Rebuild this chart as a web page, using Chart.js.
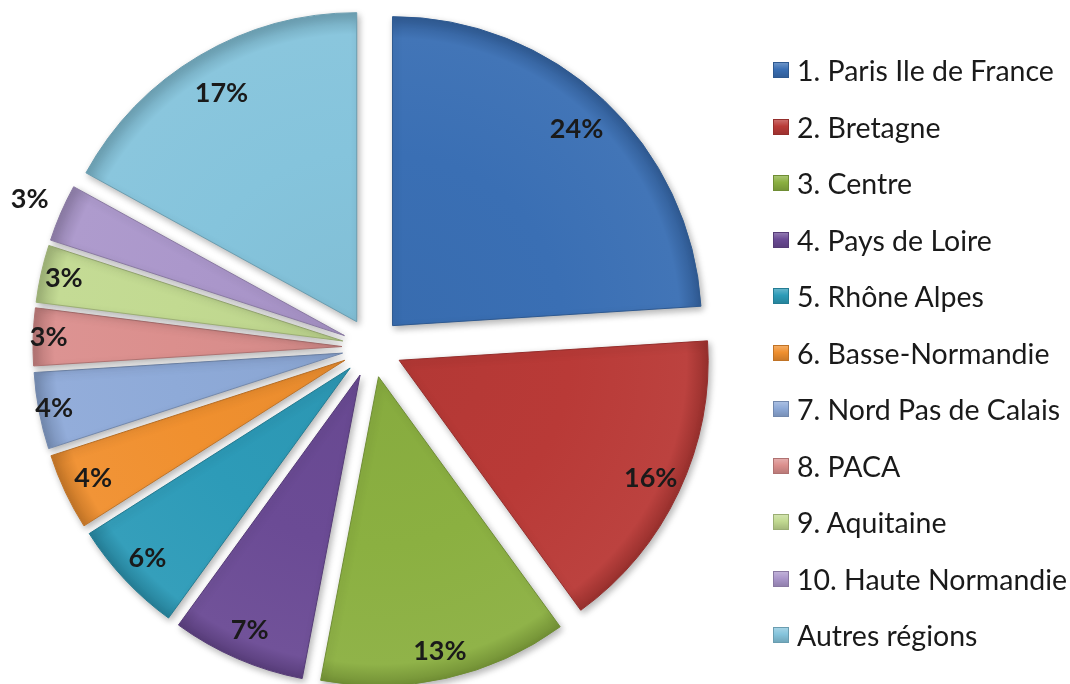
<!DOCTYPE html>
<html>
<head>
<meta charset="utf-8">
<script src="https://cdn.jsdelivr.net/npm/chart.js@4.4.1/dist/chart.umd.min.js"></script>
<style>
  html, body { margin: 0; padding: 0; background: #fff; }
  #wrap { position: relative; width: 1070px; height: 684px; overflow: hidden; }
  #chart { position: absolute; left: 0; top: 0; }
  #legend { position: absolute; left: 773px; top: 42px; font-family: Lato, sans-serif; font-size: 28.5px; color: #1a1a1a; }
  .row { height: 56.5px; display: flex; align-items: center; white-space: nowrap; }
  .box { width: 16px; height: 16px; margin-right: 8px; box-sizing: border-box; }
</style>
</head>
<body>
<div id="wrap">
  <canvas id="chart" width="1070" height="684"></canvas>
  <div id="legend"></div>
</div>
<script>
const regions = ['1. Paris Ile de France', '2. Bretagne', '3. Centre', '4. Pays de Loire', '5. Rhône Alpes',
  '6. Basse-Normandie', '7. Nord Pas de Calais', '8. PACA', '9. Aquitaine', '10. Haute Normandie', 'Autres régions'];
const shares = [24, 16, 13, 7, 6, 4, 4, 3, 3, 3, 17];

const colors = ['#3a6fb4', '#b93a37', '#8bb041', '#6b4b95', '#2d9bb8', '#f0902f',
  '#8eaad8', '#db8f8d', '#c2da91', '#ab97cb', '#85c4dc'];
// how far out each percentage sits, as a fraction of the radius
const labelDist = [0.87, 0.90, 0.91, 0.90, 0.90, 0.90, 0.95, 0.95, 0.925, 1.11, 0.86];
const explode = 30;

function shade(hex, f) {
  const n = parseInt(hex.slice(1), 16);
  let r = n >> 16, g = (n >> 8) & 255, b = n & 255;
  if (f < 1) { r *= f; g *= f; b *= f; }
  else { r += (255 - r) * (f - 1); g += (255 - g) * (f - 1); b += (255 - b) * (f - 1); }
  return 'rgb(' + Math.round(r) + ',' + Math.round(g) + ',' + Math.round(b) + ')';
}

// chart.js offset only moves slices by offset/4 and grows small ones,
// so push every slice out along its bisector ourselves
class ExplodedArc extends Chart.ArcElement {
  draw(ctx) {
    const {startAngle, endAngle} = this;
    const a = (startAngle + endAngle) / 2;
    ctx.save();
    ctx.translate(Math.cos(a) * explode, Math.sin(a) * explode);
    super.draw(ctx);
    ctx.restore();
  }
}
ExplodedArc.id = 'explodedArc';

class ExplodedPie extends Chart.PieController {}
ExplodedPie.id = 'explodedPie';
ExplodedPie.defaults = Object.assign({}, Chart.PieController.defaults, {dataElementType: 'explodedArc'});
ExplodedPie.overrides = Chart.PieController.overrides;

Chart.register(ExplodedArc, ExplodedPie);

function sliceFill(ctx) {
  const i = ctx.dataIndex;
  const chart = ctx.chart;
  const area = chart.chartArea;
  const r = chart.getDatasetMeta(0).controller.outerRadius;
  if (!area || !r) return colors[i];
  const cx = (area.left + area.right) / 2;
  const cy = (area.top + area.bottom) / 2;
  const g = chart.ctx.createRadialGradient(cx, cy, 0, cx, cy, r);
  g.addColorStop(0, shade(colors[i], 0.97));
  g.addColorStop(0.55, colors[i]);
  g.addColorStop(0.93, shade(colors[i], 1.04));
  g.addColorStop(1, shade(colors[i], 0.82));
  return g;
}

const shadowPlugin = {
  id: 'shadow',
  beforeDatasetsDraw(chart) {
    const c = chart.ctx;
    c.save();
    c.shadowColor = 'rgba(0,0,0,0.3)';
    c.shadowBlur = 7;
    c.shadowOffsetX = 2;
    c.shadowOffsetY = 3;
  },
  afterDatasetsDraw(chart) {
    chart.ctx.restore();
  }
};

const percentLabels = {
  id: 'percentLabels',
  afterDatasetsDraw(chart) {
    const c = chart.ctx;
    const meta = chart.getDatasetMeta(0);
    c.save();
    c.font = 'bold 27px Lato, sans-serif';
    c.fillStyle = '#1a1a1a';
    c.textAlign = 'center';
    c.textBaseline = 'middle';
    meta.data.forEach((arc, i) => {
      const p = arc.getProps(['x', 'y', 'startAngle', 'endAngle', 'outerRadius'], true);
      const a = (p.startAngle + p.endAngle) / 2;
      const d = explode + labelDist[i] * p.outerRadius;
      c.fillText(shares[i] + '%', p.x + Math.cos(a) * d, p.y + Math.sin(a) * d);
    });
    c.restore();
  }
};

new Chart(document.getElementById('chart'), {
  type: 'explodedPie',
  data: {
    labels: regions,
    datasets: [{
      data: shares,
      backgroundColor: sliceFill,
      borderColor: colors.map(c => shade(c, 0.8)),
      borderWidth: 1,
      hoverOffset: 0
    }]
  },
  options: {
    responsive: false,
    animation: false,
    layout: { padding: { left: 62, right: 388, top: 38, bottom: 27 } },
    plugins: {
      legend: { display: false },
      tooltip: { enabled: false }
    }
  },
  plugins: [shadowPlugin, percentLabels]
});

const legend = document.getElementById('legend');
regions.forEach((name, i) => {
  const row = document.createElement('div');
  row.className = 'row';
  const box = document.createElement('span');
  box.className = 'box';
  box.style.background = 'linear-gradient(' + shade(colors[i], 1.25) + ', ' + colors[i] + ' 45%, ' + shade(colors[i], 0.85) + ')';
  box.style.border = '1px solid ' + shade(colors[i], 0.8);
  const txt = document.createElement('span');
  txt.textContent = name;
  row.appendChild(box);
  row.appendChild(txt);
  legend.appendChild(row);
});
</script>
</body>
</html>
